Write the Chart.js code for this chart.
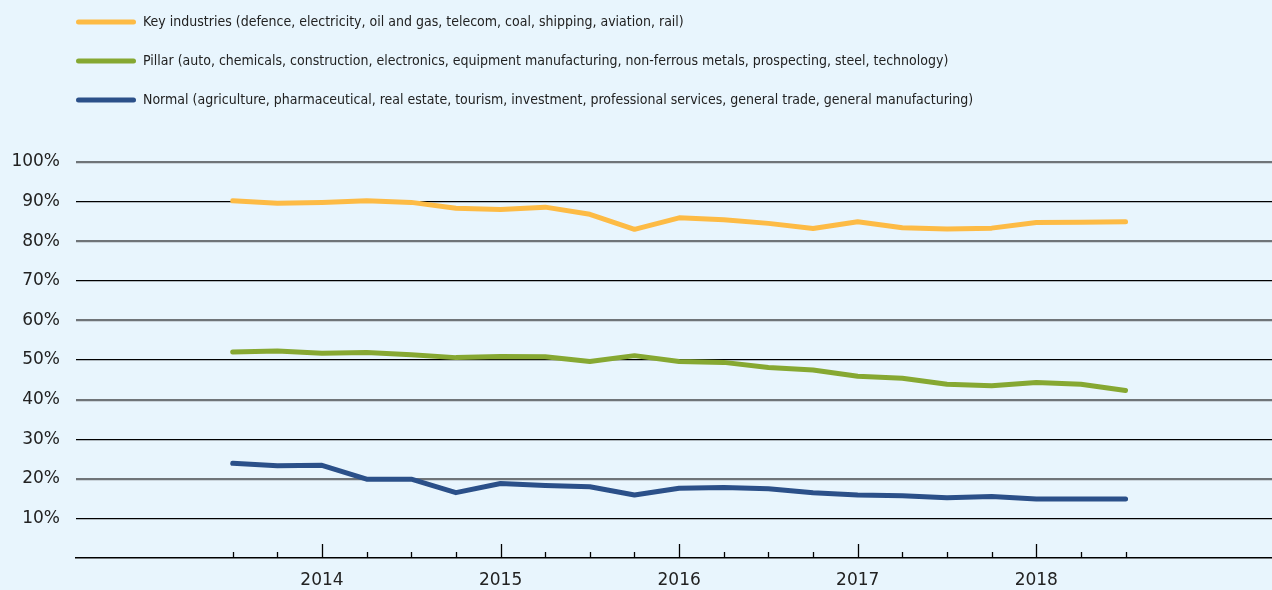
<!DOCTYPE html>
<html>
<head>
<meta charset="utf-8">
<script src="https://cdn.jsdelivr.net/npm/chart.js@4.4.1/dist/chart.umd.min.js"></script>
<style>
  html, body { margin: 0; padding: 0; background: #E8F5FD; }
  #wrap { width: 1272px; height: 590px; position: relative; }
</style>
</head>
<body>
<div id="wrap"><canvas id="c"></canvas></div>
<script>
// Quarterly observations, 2013 Q3 – 2018 Q3
const quarters = ['2013Q3','2013Q4',
  '2014Q1','2014Q2','2014Q3','2014Q4',
  '2015Q1','2015Q2','2015Q3','2015Q4',
  '2016Q1','2016Q2','2016Q3','2016Q4',
  '2017Q1','2017Q2','2017Q3','2017Q4',
  '2018Q1','2018Q2','2018Q3'];

const keyIndustries = [90.2, 89.6, 89.8, 90.2, 89.8, 88.3, 88.0, 88.6, 86.8, 83.0,
  85.9, 85.4, 84.5, 83.2, 84.9, 83.4, 83.1, 83.3, 84.7, 84.8, 84.9];
const pillar = [52.0, 52.3, 51.7, 51.9, 51.3, 50.6, 50.9, 50.8, 49.6, 51.1,
  49.6, 49.4, 48.1, 47.5, 45.9, 45.4, 43.9, 43.5, 44.3, 43.9, 42.3];
const normal = [23.9, 23.3, 23.4, 19.9, 19.9, 16.5, 18.8, 18.3, 18.0, 15.9,
  17.6, 17.8, 17.5, 16.5, 15.9, 15.7, 15.2, 15.5, 14.9, 14.9, 14.9];

const seriesNames = [
  'Key industries (defence, electricity, oil and gas, telecom, coal, shipping, aviation, rail)',
  'Pillar (auto, chemicals, construction, electronics, equipment manufacturing, non-ferrous metals, prospecting, steel, technology)',
  'Normal (agriculture, pharmaceutical, real estate, tourism, investment, professional services, general trade, general manufacturing)'
];
const yTicks = [0, 10, 20, 30, 40, 50, 60, 70, 80, 90, 100];

const toPoints = arr => arr.map((v, i) => ({ x: i, y: v }));
const yearTickIdx = quarters.map((q, i) => q.endsWith('Q1') ? i : -1).filter(i => i >= 0);

const BG = '#E8F5FD';
const legendFont = "'Liberation Sans Narrow', 'DejaVu Sans Condensed', 'Arial Narrow', sans-serif";
const tickFont = "'DejaVu Sans', sans-serif";

const bgPlugin = {
  id: 'bg',
  beforeDraw(chart) {
    const ctx = chart.ctx;
    ctx.save();
    ctx.fillStyle = BG;
    ctx.fillRect(0, 0, chart.width, chart.height);
    ctx.restore();
  }
};

const legendPos = {
  id: 'legendPos',
  afterLayout(chart) {
    if (chart.legend) {
      chart.legend.left = 51;
      chart.legend.top = -10;
    }
  }
};

const tickMarks = {
  id: 'tickMarks',
  afterDraw(chart) {
    const xs = chart.scales.x;
    const ctx = chart.ctx;
    const base = chart.chartArea.bottom;
    ctx.save();
    ctx.strokeStyle = '#000';
    ctx.lineWidth = 1.3;
    quarters.forEach((q, i) => {
      const px = Math.round(xs.getPixelForValue(i)) + 0.5;
      const len = q.endsWith('Q1') ? 14 : 6;
      ctx.beginPath();
      ctx.moveTo(px, base);
      ctx.lineTo(px, base - len);
      ctx.stroke();
    });
    ctx.restore();
  }
};

const colors = ['#FDBB45', '#86A832', '#2B5089'];
const dataSeries = [keyIndustries, pillar, normal];

new Chart(document.getElementById('c'), {
  type: 'line',
  data: {
    datasets: dataSeries.map((d, k) => ({
      label: seriesNames[k],
      data: toPoints(d),
      borderColor: colors[k],
      backgroundColor: colors[k],
      borderWidth: 5,
      pointRadius: 0,
      tension: 0,
      borderCapStyle: 'round',
      borderJoinStyle: 'round',
      fill: false
    }))
  },
  options: {
    responsive: true,
    maintainAspectRatio: false,
    animation: false,
    layout: { padding: { top: 35, left: 0, right: 0, bottom: 0 } },
    plugins: {
      tooltip: { enabled: false },
      legend: {
        position: 'top',
        align: 'start',
        labels: {
          boxWidth: 60,
          boxHeight: 5,
          padding: 25,
          color: '#222',
          useBorderRadius: true,
          borderRadius: 2.5,
          font: { family: legendFont, size: 14 },
          generateLabels(chart) {
            const items = Chart.defaults.plugins.legend.labels.generateLabels(chart);
            return items.map(it => Object.assign(it, { lineWidth: 0, strokeStyle: 'rgba(0,0,0,0)', fillStyle: colors[it.datasetIndex] }));
          }
        }
      }
    },
    scales: {
      x: {
        type: 'linear',
        min: -3.51,
        max: 23.28,
        grid: { display: false, drawTicks: false },
        border: { display: true, color: '#000', width: 1.5 },
        afterBuildTicks(scale) {
          scale.ticks = yearTickIdx.map(v => ({ value: v }));
        },
        afterFit(scale) { scale.height = 32; },
        ticks: {
          autoSkip: false,
          maxRotation: 0,
          padding: 12,
          color: '#222',
          font: { family: tickFont, size: 17 },
          callback: v => quarters[v] ? quarters[v].slice(0, 4) : ''
        }
      },
      y: {
        min: 0,
        max: 100,
        afterBuildTicks(scale) {
          scale.ticks = yTicks.map(v => ({ value: v }));
        },
        afterFit(scale) { scale.width = 76; },
        border: { display: false },
        grid: {
          drawTicks: false,
          color: c => c.tick.value === 0 ? 'rgba(0,0,0,0)' : (c.tick.value % 20 === 0 ? '#6F7478' : '#000'),
          lineWidth: c => c.tick.value % 20 === 0 ? 2.2 : 1.2
        },
        ticks: {
          padding: 16,
          color: '#222',
          font: { family: tickFont, size: 17 },
          callback: v => v === 0 ? '' : v + '%'
        }
      }
    }
  },
  plugins: [bgPlugin, legendPos, tickMarks]
});
</script>
</body>
</html>
